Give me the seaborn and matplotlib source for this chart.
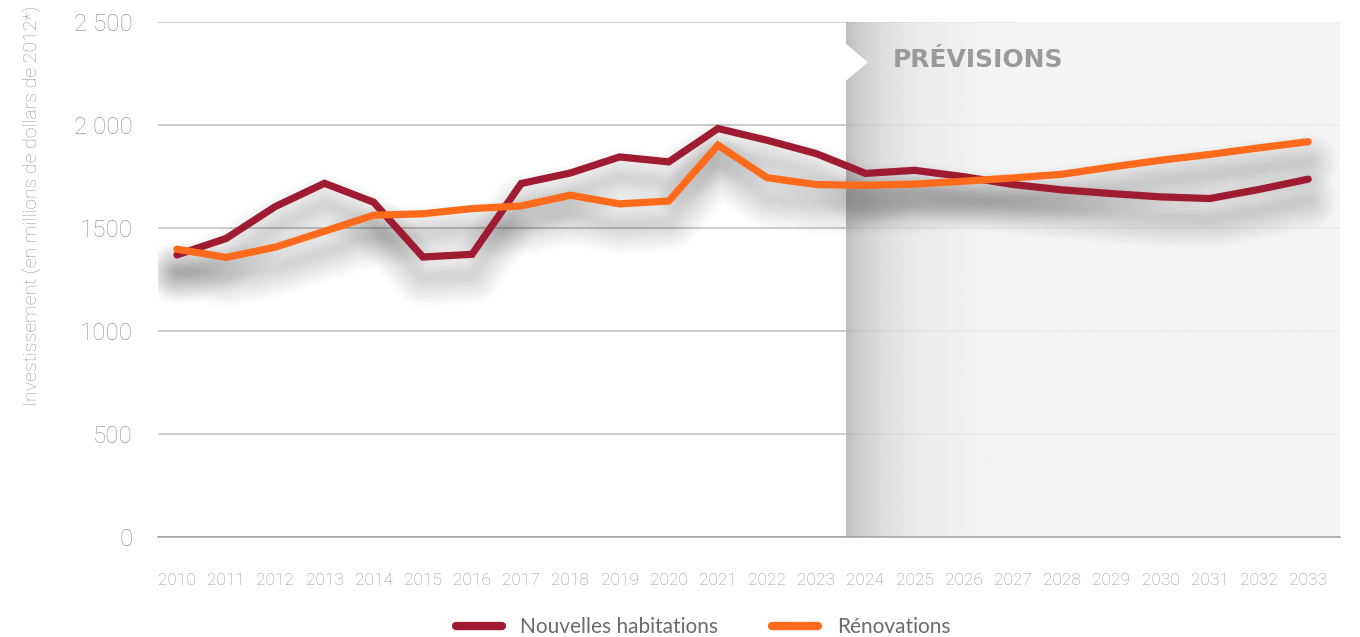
import numpy as np
import pandas as pd
import matplotlib
matplotlib.use("Agg")
import matplotlib.pyplot as plt
import matplotlib.patheffects as pe
from matplotlib.lines import Line2D
from matplotlib.patches import Polygon
import seaborn as sns

years = list(range(2010, 2034))
nouvelles = [1370, 1450, 1605, 1718, 1626, 1360, 1373, 1717, 1768, 1846, 1822, 1984,
             1927, 1862, 1766, 1781, 1750, 1712, 1686, 1668, 1652, 1644, 1688, 1738]
renovations = [1398, 1358, 1408, 1485, 1563, 1570, 1595, 1608, 1660, 1618, 1632, 1903,
               1745, 1712, 1708, 1714, 1728, 1744, 1762, 1797, 1830, 1858, 1890, 1920]
series_names = ["Nouvelles habitations", "Rénovations"]
colors = ["#9E1B32", "#FF6B1A"]
yticks = [0, 500, 1000, 1500, 2000, 2500]
ytick_labels = ["0", "500", "1000", "1500", "2 000", "2 500"]
forecast_label = "PRÉVISIONS"
ylabel = "Investissement (en millions de dollars de 2012*)"

df = pd.DataFrame({
    "Année": years * 2,
    "Valeur": nouvelles + renovations,
    "Série": [series_names[0]] * len(years) + [series_names[1]] * len(years),
})

sns.set_theme(style="white")
plt.rcParams["font.family"] = ["Roboto", "DejaVu Sans"]

fig = plt.figure(figsize=(13.6, 6.37), dpi=100)
ax = fig.add_axes([0.116, 0.157, 0.869, 0.808])

x0, x1 = 2009.61, 2033.64
ax.set_xlim(x0, x1)
ax.set_ylim(0, 2500)

# grid
ax.set_axisbelow(True)
ax.yaxis.grid(True, color="#c0c0c0", linewidth=1.1)
ax.xaxis.grid(False)

# forecast shaded region with gradient
fx0 = 2023.6
t = np.linspace(0, 1, 400)
vals = 0.955 - 0.25 * np.exp(-t / 0.09)
grad = np.vstack([vals, vals])
ax.imshow(grad, extent=[fx0, x1, 0, 2500], aspect="auto", cmap="gray", vmin=0, vmax=1,
          zorder=1, alpha=0.85, interpolation="bilinear")
# white notch
notch = Polygon([[fx0 - 0.01, 2398], [fx0 + 0.45, 2306], [fx0 - 0.01, 2213]], closed=True,
                facecolor="white", edgecolor="none", zorder=1.5)
ax.add_patch(notch)
ax.text(2024.55, 2315, forecast_label, fontsize=18, fontweight="bold", color="#9a9a9a",
        family=["DejaVu Sans"], va="center", ha="left", zorder=2)

# soft drop shadows
shadow_fx = [pe.SimpleLineShadow(offset=(0, -15), shadow_color="black", alpha=0.011, linewidth=w)
             for w in np.linspace(5, 42, 14)]
for vals_s in (nouvelles, renovations):
    ax.plot(years, vals_s, color="none", linewidth=5, zorder=2.5, path_effects=shadow_fx)

sns.lineplot(data=df, x="Année", y="Valeur", hue="Série", palette=colors, linewidth=5.2,
             ax=ax, legend=False, zorder=3, solid_capstyle="round", solid_joinstyle="miter")

# axes styling
for s in ["top", "right", "left"]:
    ax.spines[s].set_visible(False)
ax.spines["bottom"].set_color("#a0a0a0")
ax.spines["bottom"].set_linewidth(1.1)
ax.spines["bottom"].set_zorder(4)

ax.set_yticks(yticks)
ax.set_yticklabels(ytick_labels)
ax.set_xticks(years)
ax.set_xticklabels([str(y) for y in years])
ax.set_xticks([y + 0.6 for y in years[:-1]], minor=True)
ax.tick_params(axis="x", which="major", length=0, pad=26, labelsize=12.5, labelcolor="#969696")
ax.tick_params(axis="x", which="minor", length=11, width=1, color="#a0a0a0", direction="out")
ax.tick_params(axis="y", length=0, pad=18, labelsize=17.5, labelcolor="#9a9a9a")
for lab in ax.get_yticklabels() + ax.get_xticklabels():
    lab.set_fontweight("light")
ax.set_xlabel("")
ax.set_ylabel("")

fig.text(0.024, 0.677, ylabel, rotation=90, ha="center", va="center", fontsize=14,
         color="#999999", fontweight="light")

handles = [Line2D([0], [0], color=c, linewidth=6, solid_capstyle="round") for c in colors]
leg = fig.legend(handles, series_names, loc="center", bbox_to_anchor=(0.517, 0.016),
                 ncol=2, frameon=False, handlelength=2.2, columnspacing=2.6,
                 handletextpad=0.9, labelcolor="#6a6a6a",
                 prop={"family": ["Lato", "DejaVu Sans"], "size": 15})

fig.savefig("out.png", dpi=100)
